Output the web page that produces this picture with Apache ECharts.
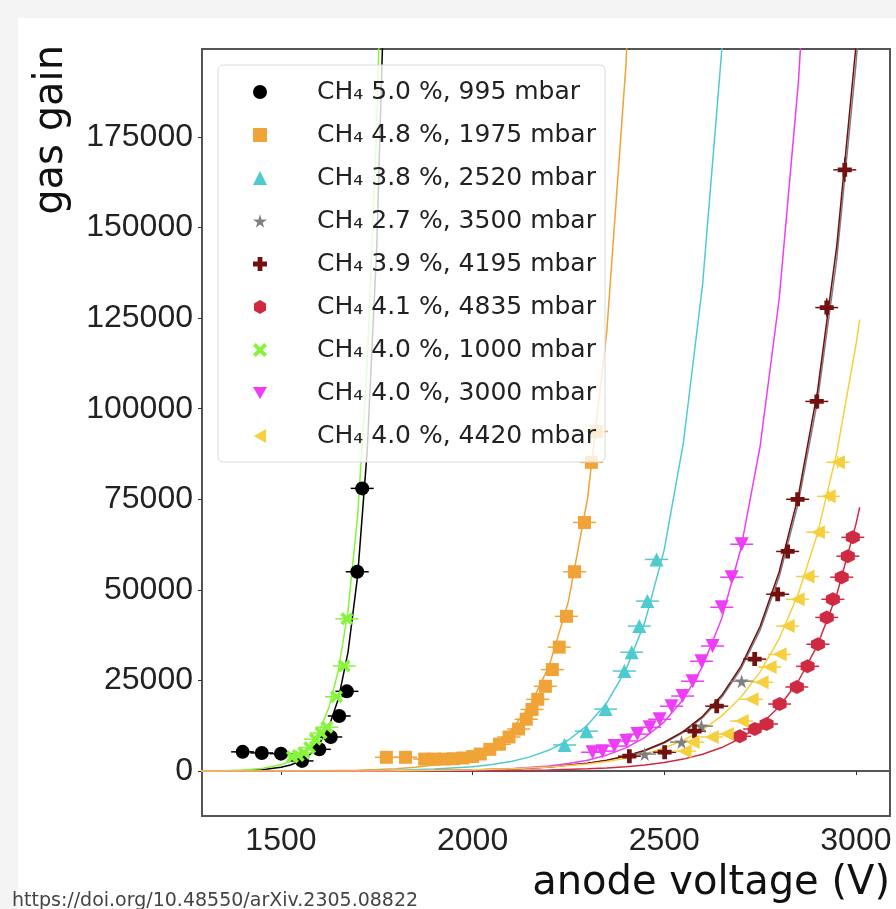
<!DOCTYPE html>
<html lang="en">
<head>
<meta charset="UTF-8">
<title>gas gain vs anode voltage</title>
<script src="https://cdn.jsdelivr.net/npm/echarts@6.0.0/dist/echarts.min.js"></script>
<style>
  body { margin: 0; background: #f4f4f4; }
  #panel { position: absolute; left: 18px; top: 18px; width: 878px; height: 891px; background: #fff; }
  #main { position: absolute; left: 0; top: 0; width: 896px; height: 909px; }
</style>
</head>
<body>
<div id="panel"></div>
<div id="main"></div>
<script type="text/javascript">
// measured points (anode voltage V, gas gain)
const blackPts = [[1400,5300],[1450,5000],[1500,4800],[1555,2800],[1600,6000],[1630,9400],[1652,15200],[1672,22000],[1699,55000],[1712,78000]];
const orangePts = [[1775,3800],[1825,3800],[1875,3300],[1900,3300],[1925,3300],[1950,3400],[1975,3600],[2000,4000],[2020,4700],[2045,6000],[2070,7400],[2095,9400],[2120,11600],[2140,14300],[2155,17000],[2170,19800],[2190,23400],[2208,28000],[2226,34200],[2245,42700],[2266,55000],[2292,68600],[2310,85200],[2323,93700]];
const cyanPts = [[2240,7200],[2297,11000],[2347,17100],[2396,27600],[2415,32800],[2435,40000],[2456,46900],[2480,58400]];
const greyPts = [[2449,4700],[2545,8000],[2597,12400],[2702,24800]];
const darkredPts = [[2409,4100],[2501,5200],[2579,11000],[2637,17900],[2736,30900],[2796,48800],[2822,60600],[2848,75000],[2898,102000],[2924,127900],[2971,165900]];
const crimsonPts = [[2697,9600],[2736,11600],[2767,13000],[2801,18500],[2846,23200],[2874,28900],[2901,35000],[2924,42400],[2940,47400],[2963,53500],[2979,59300],[2992,64500]];
const greenPts = [[1530,3900],[1545,4300],[1560,5000],[1575,6500],[1590,8800],[1605,10500],[1620,12100],[1645,20500],[1665,29000],[1672,42000]];
const magentaPts = [[2313,5200],[2339,5500],[2370,6900],[2401,8300],[2430,10200],[2462,12100],[2488,14300],[2519,17900],[2548,20700],[2574,24800],[2597,30300],[2626,34500],[2650,45200],[2676,53500],[2702,62600]];
const goldPts = [[2553,5500],[2574,8000],[2624,9400],[2663,10200],[2702,13800],[2728,19800],[2754,24500],[2775,28700],[2801,32200],[2822,40000],[2848,47400],[2874,53700],[2901,65900],[2929,75800],[2953,85200]];

// fit curves
const blackFit = [[1290,16],[1350,53],[1400,141],[1450,381],[1500,1026],[1525,1681],[1550,2763],[1575,4530],[1600,7430],[1625,12190],[1650,20000],[1675,32800],[1700,53800],[1725,88300],[1750,144800],[1775,237600]];
const orangeFit = [[1290,5],[1400,15],[1500,38],[1600,97],[1700,252],[1750,406],[1800,652],[1850,1048],[1900,1685],[1950,2710],[2000,4360],[2050,7010],[2100,11270],[2150,18100],[2200,29100],[2250,46800],[2300,75300],[2350,121100],[2400,194700],[2450,313000]];
const cyanFit = [[1290,5],[1500,24],[1700,114],[1800,250],[1900,547],[2000,1200],[2050,1780],[2100,2640],[2150,3910],[2200,5790],[2250,8570],[2300,12700],[2350,18800],[2400,27900],[2450,41300],[2500,61100],[2550,90600],[2600,134200],[2650,198800],[2700,294500]];
const greyFit = [[1290,3],[1800,85],[1900,162],[2000,308],[2100,587],[2200,1121],[2300,2134],[2350,2943],[2400,4064],[2450,5613],[2500,7747],[2550,10690],[2600,14715],[2650,20370],[2700,28160],[2750,38880],[2800,53600],[2850,74060],[2900,102220],[2950,141100],[3000,194800],[3010,207800]];
const darkredFit = [[1290,3],[1800,87],[1900,166],[2000,316],[2100,602],[2200,1150],[2300,2190],[2350,3020],[2400,4170],[2450,5760],[2500,7950],[2550,10970],[2600,15100],[2650,20900],[2700,28900],[2750,39900],[2800,55000],[2850,76000],[2900,104900],[2950,144800],[3000,199900],[3010,213200]];
const crimsonFit = [[1290,1],[1800,21],[1900,42],[2000,82],[2100,161],[2200,315],[2300,617],[2350,863],[2400,1210],[2450,1690],[2500,2370],[2550,3300],[2600,4630],[2650,6480],[2700,9070],[2750,12690],[2800,17750],[2850,24850],[2900,34770],[2950,48650],[3000,68070],[3010,72800]];
const greenFit = [[1290,35],[1350,107],[1400,270],[1450,681],[1500,1720],[1525,2740],[1550,4360],[1575,6930],[1600,11000],[1625,17500],[1650,27900],[1675,44300],[1700,70400],[1725,112000],[1750,178000],[1775,283000]];
const magentaFit = [[1290,1],[1700,33],[1800,70],[1900,147],[2000,313],[2100,666],[2200,1417],[2250,2060],[2300,3010],[2350,4390],[2400,6390],[2450,9320],[2500,13590],[2550,19800],[2600,28900],[2650,42100],[2700,61400],[2750,89500],[2800,130400],[2850,190100],[2900,277200]];
const goldFit = [[1290,6],[1800,106],[1900,191],[2000,342],[2100,613],[2200,1100],[2300,1971],[2350,2640],[2400,3540],[2450,4740],[2500,6350],[2550,8500],[2600,11380],[2650,15230],[2700,20390],[2750,27300],[2800,36570],[2850,48970],[2900,65570],[2950,87800],[3000,117500],[3010,124600]];

const xTicks = [1500, 2000, 2500, 3000];
const yTicks = [0, 25000, 50000, 75000, 100000, 125000, 150000, 175000];
const xErr = 30;      // V
const yErrRel = 0.02; // relative

const groups = [
  { name: 'CH\u2084 5.0 %, 995 mbar',  color: '#000000', symbol: 'circle', size: 14, pts: blackPts, fit: blackFit },
  { name: 'CH\u2084 4.8 %, 1975 mbar', color: '#f0a336', symbol: 'rect', size: 13, pts: orangePts, fit: orangeFit },
  { name: 'CH\u2084 3.8 %, 2520 mbar', color: '#4fcbd0', symbol: 'triangle', size: 14, pts: cyanPts, fit: cyanFit },
  { name: 'CH\u2084 2.7 %, 3500 mbar', color: '#808080', symbol: 'path://M50,0 L61,35 L98,35 L68,57 L79,91 L50,70 L21,91 L32,57 L2,35 L39,35 Z', size: 14, pts: greyPts, fit: greyFit },
  { name: 'CH\u2084 3.9 %, 4195 mbar', color: '#731010', symbol: 'path://M33,0 H67 V33 H100 V67 H67 V100 H33 V67 H0 V33 H33 Z', size: 14, pts: darkredPts, fit: darkredFit },
  { name: 'CH\u2084 4.1 %, 4835 mbar', color: '#d02a42', symbol: 'path://M50,0 L93,25 L93,75 L50,100 L7,75 L7,25 Z', size: 14, pts: crimsonPts, fit: crimsonFit },
  { name: 'CH\u2084 4.0 %, 1000 mbar', color: '#86f43a', symbol: 'path://M20,0 L50,30 L80,0 L100,20 L70,50 L100,80 L80,100 L50,70 L20,100 L0,80 L30,50 L0,20 Z', size: 13, pts: greenPts, fit: greenFit },
  { name: 'CH\u2084 4.0 %, 3000 mbar', color: '#ee3cf7', symbol: 'path://M0,0 L100,0 L50,87 Z', size: 14, pts: magentaPts, fit: magentaFit },
  { name: 'CH\u2084 4.0 %, 4420 mbar', color: '#f6cf3f', symbol: 'path://M0,50 L87,0 L87,100 Z', size: 14, pts: goldPts, fit: goldFit }
];

function errBars(color) {
  return function (params, api) {
    const x = api.value(0), y = api.value(1);
    const l = api.coord([x - xErr, y]), r = api.coord([x + xErr, y]);
    const t = api.coord([x, y * (1 + yErrRel)]), b = api.coord([x, y * (1 - yErrRel)]);
    return {
      type: 'group',
      children: [
        { type: 'line', shape: { x1: l[0], y1: l[1], x2: r[0], y2: r[1] }, style: { stroke: color, lineWidth: 1.5 } },
        { type: 'line', shape: { x1: t[0], y1: t[1], x2: b[0], y2: b[1] }, style: { stroke: color, lineWidth: 1.5 } }
      ]
    };
  };
}

const series = [];
groups.forEach((g) => {
  series.push({
    type: 'line', data: g.fit, showSymbol: false, smooth: false,
    lineStyle: { color: g.color, width: 1.5 }, silent: true, z: 2
  });
});
groups.forEach((g) => {
  series.push({
    type: 'custom', data: g.pts, renderItem: errBars(g.color), encode: { x: 0, y: 1 }, silent: true, z: 3
  });
  series.push({
    name: g.name, type: 'scatter', data: g.pts, symbol: g.symbol, symbolSize: g.size,
    itemStyle: { color: g.color, opacity: 1 }, z: 4
  });
});

let options = {
  animation: false,
  grid: { left: 202, top: 49, right: 6, bottom: 93, show: true, borderColor: '#555', borderWidth: 2, backgroundColor: 'transparent' },
  xAxis: {
    type: 'value', min: 1294, max: 3089,
    axisLine: { show: true, lineStyle: { color: '#555', width: 2 } },
    axisTick: { show: true, length: 4, lineStyle: { color: '#333' }, customValues: xTicks },
    axisLabel: { customValues: xTicks, formatter: (v) => String(v), fontFamily: 'Liberation Sans', fontSize: 32, color: '#222', margin: 9 },
    splitLine: { show: false }
  },
  yAxis: {
    type: 'value', min: -12400, max: 199250,
    axisLine: { show: true, lineStyle: { color: '#555', width: 2 } },
    axisTick: { show: true, length: 4, lineStyle: { color: '#333' }, customValues: yTicks },
    axisLabel: { customValues: yTicks, formatter: (v) => String(v), fontFamily: 'Liberation Sans', fontSize: 32, color: '#222', margin: 9 },
    splitLine: { show: false }
  },
  legend: {
    orient: 'vertical', left: 253, top: 77, padding: 0,
    itemWidth: 14, itemHeight: 14, itemGap: 13, selectedMode: false,
    data: groups.map((g) => g.name),
    textStyle: { fontFamily: 'DejaVu Sans', fontSize: 25, color: '#222', lineHeight: 30, padding: [0, 0, 0, 45] },
    z: 101
  },
  graphic: [
    { type: 'rect', z: 100, shape: { x: 218, y: 65, width: 387, height: 397, r: 5 },
      style: { fill: 'rgba(255,255,255,0.8)', stroke: '#d9d9d9', lineWidth: 1 } },
    { type: 'text', x: 890, y: 884, style: { text: 'anode voltage (V)', font: '40px "DejaVu Sans"', fill: '#111', textAlign: 'right', textVerticalAlign: 'middle' } },
    { type: 'text', x: 52, y: 45, rotation: Math.PI / 2, style: { text: 'gas gain', font: '40px "DejaVu Sans"', fill: '#111', textAlign: 'right', textVerticalAlign: 'middle' } },
    { type: 'text', x: 12, y: 901, style: { text: 'https://doi.org/10.48550/arXiv.2305.08822', font: '19px "DejaVu Sans"', fill: '#444', textAlign: 'left', textVerticalAlign: 'middle' } }
  ],
  series: series
};

let myChart = echarts.init(document.getElementById('main'));
myChart.setOption(options);
</script>
</body>
</html>
